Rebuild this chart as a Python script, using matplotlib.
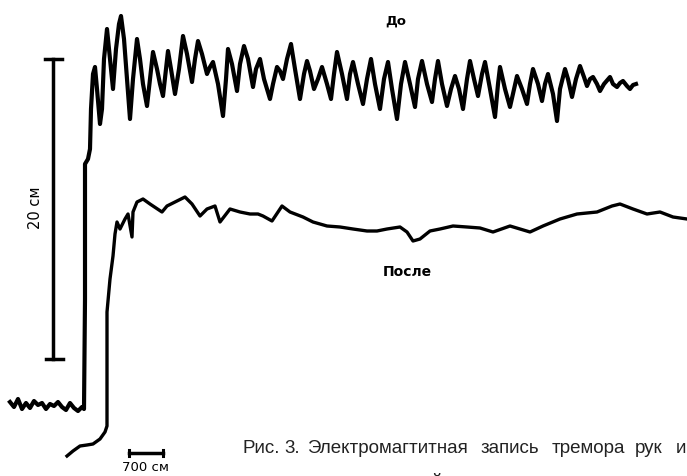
import matplotlib.pyplot as plt

# traces, in pixel units (y grows downward)
before_x = [10, 14, 18, 22, 26, 30, 34, 38, 42, 46, 50, 54, 58, 62, 66, 70, 74, 78, 82, 84,
            85, 85, 85, 88, 90, 91, 93, 95, 97, 100, 102, 104, 107, 110, 113, 116, 119, 121, 124, 127,
            130, 133, 137, 140, 143, 147, 150, 153, 157, 160, 163, 166, 168, 171, 175, 179, 183, 187, 192, 195,
            198, 202, 207, 210, 213, 218, 223, 226, 228, 232, 237, 240, 244, 248, 253, 256, 260, 264, 270, 273,
            277, 280, 283, 287, 291, 295, 300, 304, 307, 310, 314, 318, 322, 327, 331, 334, 337, 342, 347, 350,
            353, 358, 363, 367, 371, 375, 380, 384, 388, 392, 397, 401, 405, 410, 415, 418, 422, 427, 432, 435,
            438, 442, 447, 451, 455, 459, 463, 467, 470, 474, 478, 482, 485, 490, 495, 498, 500, 505, 510, 514,
            517, 522, 527, 530, 533, 538, 542, 545, 548, 553, 557, 560, 565, 568, 572, 576, 580, 584, 587, 590,
            593, 597, 600, 604, 610, 613, 617, 620, 623, 627, 630, 633, 636]
before_y = [403, 408, 400, 410, 404, 409, 402, 406, 404, 410, 405, 407, 403, 408, 411, 404, 409, 412, 408, 410,
            300, 200, 165, 160, 150, 110, 75, 68, 90, 125, 110, 60, 30, 60, 90, 50, 25, 17, 40, 80,
            120, 80, 40, 60, 85, 107, 80, 53, 70, 85, 97, 70, 52, 70, 95, 70, 37, 55, 83, 60,
            42, 55, 75, 68, 63, 85, 117, 80, 50, 65, 92, 65, 47, 60, 88, 70, 60, 80, 100, 85,
            68, 72, 80, 60, 45, 70, 100, 75, 62, 72, 90, 80, 68, 85, 100, 75, 53, 75, 100, 75,
            63, 85, 105, 80, 60, 85, 110, 80, 63, 90, 120, 85, 63, 85, 108, 80, 62, 85, 103, 80,
            62, 85, 107, 90, 77, 90, 110, 80, 62, 80, 97, 75, 63, 90, 118, 85, 68, 90, 108, 90,
            77, 90, 105, 85, 70, 85, 102, 85, 75, 95, 122, 90, 70, 80, 98, 80, 67, 78, 87, 80,
            78, 85, 92, 85, 78, 85, 88, 84, 82, 87, 90, 86, 85]

after_x = [67, 73, 80, 87, 93, 100, 105, 107, 107, 107, 110, 113, 115, 117, 120, 125, 128, 132, 133, 137,
           143, 150, 153, 162, 167, 177, 185, 192, 200, 207, 215, 220, 230, 240, 250, 258, 263, 272, 282, 290,
           303, 313, 327, 340, 353, 367, 377, 387, 400, 407, 413, 420, 430, 440, 453, 467, 480, 493, 510, 520,
           530, 543, 560, 577, 597, 612, 620, 633, 647, 660, 673, 687]
after_y = [457, 452, 447, 446, 445, 440, 433, 427, 413, 313, 280, 257, 235, 223, 230, 220, 215, 238, 213, 203,
           200, 205, 207, 213, 207, 202, 198, 205, 217, 210, 207, 223, 210, 213, 215, 215, 217, 222, 207, 213,
           218, 223, 227, 228, 230, 232, 232, 230, 228, 233, 242, 240, 232, 230, 227, 228, 229, 233, 227, 230,
           233, 227, 220, 215, 213, 207, 205, 210, 215, 213, 218, 220]

label_before = "До"
label_after = "После"
label_amp = "20 см"
label_time = "700 см"
# caption words and the left edge of each word as seen on the scan
caption_words = ["Рис.", "3.", "Электромагтитная", "запись", "тремора", "рук", "и"]
caption_word_x = [243, 284, 307, 481, 552, 635, 676]

narrow = ['Liberation Sans Narrow', 'DejaVu Sans']

fig = plt.figure(figsize=(6.87, 4.77), dpi=100)
ax = fig.add_axes([0, 0, 1, 1])
ax.set_xlim(0, 687)
ax.set_ylim(477, 0)
ax.axis('off')

ax.plot(before_x, before_y, color='black', lw=3.0, solid_joinstyle='round')
ax.plot(after_x, after_y, color='black', lw=2.4, solid_joinstyle='round')

# amplitude scale bar
ax.plot([53, 53], [60, 360], color='black', lw=2.5)
ax.plot([45, 62], [60, 60], color='black', lw=2.5)
ax.plot([46, 63], [360, 360], color='black', lw=2.5)
ax.text(36, 208, label_amp, rotation=90, ha='center', va='center', fontsize=10.5, family=narrow)

# time scale bar
ax.plot([129, 163], [454, 454], color='black', lw=2.5)
ax.plot([129, 129], [451, 457], color='black', lw=2.2)
ax.plot([163, 163], [451, 457], color='black', lw=2.2)
ax.text(145, 468, label_time, ha='center', va='center', fontsize=9.5, family=narrow)

ax.text(396, 21, label_before, ha='center', va='center', fontsize=9.5, fontweight='bold', family=narrow)
ax.text(407, 272, label_after, ha='center', va='center', fontsize=10, fontweight='bold', family=narrow)

for word, wx in zip(caption_words, caption_word_x):
    ax.text(wx, 453, word, ha='left', va='baseline', fontsize=13.5, color='#222222',
            family=['Liberation Sans', 'DejaVu Sans'])
# only the breve of the next caption line shows at the bottom edge
ax.text(437, 487, "й", ha='center', va='baseline', fontsize=13.5, color='#222222',
        family=['Liberation Sans', 'DejaVu Sans'])

fig.savefig('out.png', dpi=100)
